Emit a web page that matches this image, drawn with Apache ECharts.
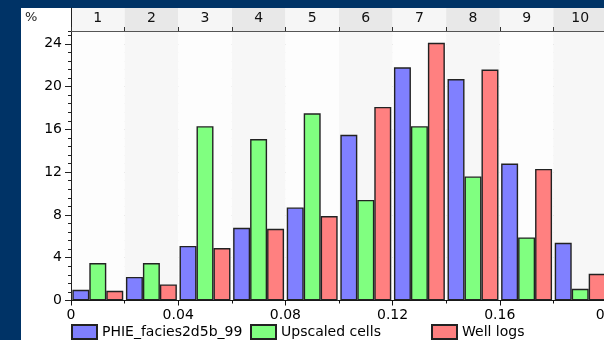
<!DOCTYPE html>
<html>
<head>
<meta charset="utf-8">
<script src="https://cdn.jsdelivr.net/npm/echarts@6/dist/echarts.min.js"></script>
<style>
  html, body { margin: 0; padding: 0; background: #003366; }
  #wrap { position: relative; width: 604px; height: 340px; background: #003366; overflow: hidden; }
  #panel { position: absolute; left: 21px; top: 8px; width: 583px; height: 332px; background: #ffffff; }
  #chart { position: absolute; left: 0; top: 0; width: 604px; height: 340px; }
</style>
</head>
<body>
<div id="wrap">
  <div id="panel"></div>
  <div id="chart"></div>
</div>
<script>
// Histogram bins (porosity classes 0–0.2, width 0.02)
const bins = ['1', '2', '3', '4', '5', '6', '7', '8', '9', '10'];
// Percent of samples in each bin
const phieFacies = [1.0, 2.2, 5.1, 6.8, 8.7, 15.5, 21.8, 20.7, 12.8, 5.4];
const upscaledCells = [3.5, 3.5, 16.3, 15.1, 17.5, 9.4, 16.3, 11.6, 5.9, 1.1];
const wellLogs = [0.9, 1.5, 4.9, 6.7, 7.9, 18.1, 24.1, 21.6, 12.3, 2.5];
const seriesNames = ['PHIE_facies2d5b_99', 'Upscaled cells', 'Well logs'];
const seriesColors = ['#8080ff', '#80ff80', '#ff8080'];

const FONT = 'DejaVu Sans';
const chart = echarts.init(document.getElementById('chart'), null, { renderer: 'canvas' });

const barSeries = [phieFacies, upscaledCells, wellLogs].map((values, i) => ({
  name: seriesNames[i],
  type: 'bar',
  xAxisIndex: 0,
  yAxisIndex: 1,
  data: values,
  barGap: '0%',
  barCategoryGap: '5%',
  itemStyle: { color: seriesColors[i], borderColor: '#222222', borderWidth: 1.4 },
  emphasis: { disabled: true }
}));

function legendAt(left, name) {
  return {
    left: left, top: 324, orient: 'horizontal', padding: 0,
    data: [name], itemWidth: 25, itemHeight: 14, icon: 'rect',
    selectedMode: false,
    textStyle: { fontFamily: FONT, fontSize: 14, color: '#000000' }
  };
}

chart.setOption({
  animation: false,
  backgroundColor: 'transparent',
  graphic: [{
    type: 'text', left: 25, top: 11,
    style: { text: '%', font: '13px "DejaVu Sans"', fill: '#222222' }
  }],
  legend: [legendAt(71, seriesNames[0]), legendAt(250, seriesNames[1]), legendAt(431, seriesNames[2])],
  grid: [
    { left: 71, right: -3, top: 31, bottom: 39.5, outerBoundsMode: 'none', containLabel: false },
    { left: 71, right: -3, top: 8, height: 23, outerBoundsMode: 'none', containLabel: false }
  ],
  xAxis: [
    { // bin categories carrying the bars and the faint column shading
      type: 'category', gridIndex: 0, data: bins, position: 'bottom', boundaryGap: true,
      axisLine: { show: false }, axisTick: { show: false }, axisLabel: { show: false },
      splitLine: { show: false },
      splitArea: { show: true, areaStyle: { color: ['#fdfdfd', '#f7f7f7'] } }
    },
    { // porosity value scale
      type: 'value', gridIndex: 0, min: 0, max: 0.2, interval: 0.04, position: 'bottom',
      axisLine: { show: true, lineStyle: { color: '#111111', width: 1 } },
      axisTick: { show: true, length: 5, lineStyle: { color: '#111111' } },
      minorTick: { show: true, splitNumber: 2, length: 3, lineStyle: { color: '#111111' } },
      axisLabel: { fontFamily: FONT, fontSize: 14, color: '#000000', margin: 8 },
      splitLine: { show: false }
    },
    { // numbered bin band above the plot
      type: 'category', gridIndex: 1, data: bins, position: 'bottom', boundaryGap: true,
      axisLine: { show: true, lineStyle: { color: '#555555', width: 1 } },
      axisTick: { show: true, inside: true, length: 4, lineStyle: { color: '#333333' } },
      axisLabel: { inside: true, margin: 6, fontFamily: FONT, fontSize: 14, color: '#111111' },
      splitLine: { show: false },
      splitArea: { show: true, areaStyle: { color: ['#f6f6f6', '#e8e8e8'] } }
    }
  ],
  yAxis: [
    { // fine graduation every 0.8 %
      type: 'value', gridIndex: 0, position: 'left', min: 0, max: 25.2, interval: 0.8,
      axisLine: { show: false },
      axisTick: { show: true, length: 3, lineStyle: { color: '#222222' } },
      axisLabel: { show: false },
      splitLine: { show: true, lineStyle: { color: '#eaeaea', width: 1 } }
    },
    { // labelled graduation every 4 %
      type: 'value', gridIndex: 0, position: 'left', min: 0, max: 25.2, interval: 4,
      axisLine: { show: true, lineStyle: { color: '#222222', width: 1 } },
      axisTick: { show: true, length: 6, lineStyle: { color: '#222222' } },
      axisLabel: { fontFamily: FONT, fontSize: 14, color: '#000000', margin: 9, showMaxLabel: false },
      splitLine: { show: true, lineStyle: { color: '#b8b8b8', width: 1 } }
    },
    {
      type: 'value', gridIndex: 1, position: 'left', min: 0, max: 1,
      axisLine: { show: true, lineStyle: { color: '#222222', width: 1 } },
      axisTick: { show: false }, axisLabel: { show: false }, splitLine: { show: false }
    }
  ],
  series: barSeries
});
</script>
</body>
</html>
